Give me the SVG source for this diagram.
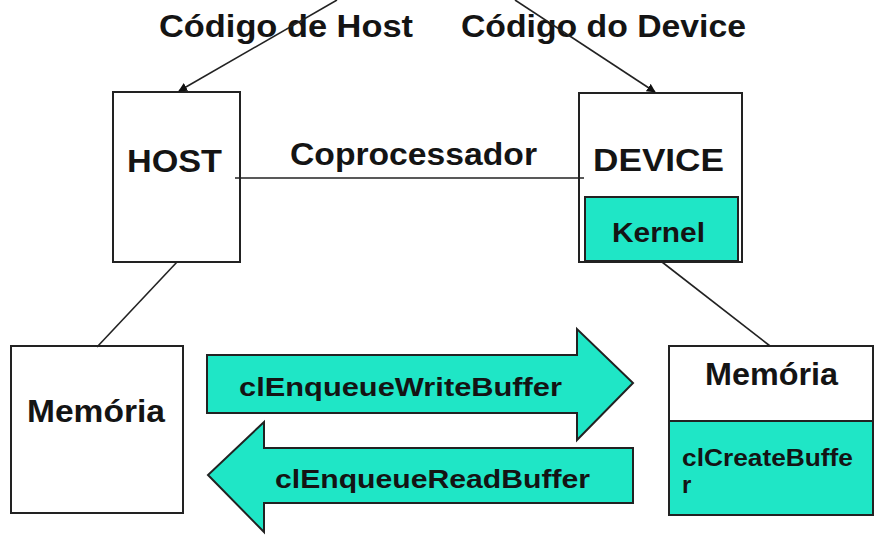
<svg xmlns="http://www.w3.org/2000/svg" width="875" height="535" viewBox="0 0 875 535">
<defs>
<marker id="ah" viewBox="0 0 10 10" refX="9" refY="5" markerWidth="9" markerHeight="9" markerUnits="userSpaceOnUse" orient="auto">
<path d="M0,0 L10,5 L0,10 z" fill="#111"/>
</marker>
</defs>
<style>
text{font-family:"Liberation Sans",Arial,sans-serif;font-weight:bold;fill:#141414}
.box{fill:#fff;stroke:#222;stroke-width:2}
.teal{fill:#1fe6c6;stroke:#222;stroke-width:2}
.ln{stroke:#222;stroke-width:1.6;fill:none}
.big{font-size:31px}
.mid{font-size:26px}
</style>
<rect width="875" height="535" fill="#fff"/>
<g id="labels">
<text class="big" x="159" y="37" textLength="254" lengthAdjust="spacingAndGlyphs">Código de Host</text>
<text class="big" x="461" y="37" textLength="285" lengthAdjust="spacingAndGlyphs">Código do Device</text>
<text class="big" x="290" y="165" textLength="247" lengthAdjust="spacingAndGlyphs">Coprocessador</text>
</g>
<g id="host">
<rect class="box" x="113" y="92" width="127" height="170"/>
<text class="big" x="127" y="172" textLength="95" lengthAdjust="spacingAndGlyphs">HOST</text>
</g>
<g id="device">
<rect class="box" x="579" y="93" width="163" height="169"/>
<text class="big" x="593" y="171" textLength="131" lengthAdjust="spacingAndGlyphs">DEVICE</text>
<g id="kernel">
<rect class="teal" x="585" y="197" width="153" height="64"/>
<text style="font-size:27px" x="612" y="242" textLength="93" lengthAdjust="spacingAndGlyphs">Kernel</text>
</g>
</g>
<g id="mem-host">
<rect class="box" x="11" y="346" width="172" height="167"/>
<text class="big" x="27" y="422" textLength="138" lengthAdjust="spacingAndGlyphs">Memória</text>
</g>
<g id="mem-device">
<rect class="box" x="669" y="346" width="204" height="169"/>
<rect class="teal" x="669" y="421" width="204" height="94"/>
<text class="big" x="705" y="385" textLength="133" lengthAdjust="spacingAndGlyphs">Memória</text>
<text style="font-size:24px" x="682" y="466" textLength="171" lengthAdjust="spacingAndGlyphs">clCreateBuffe</text>
<text style="font-size:24px" x="682" y="493">r</text>
</g>
<g id="write-arrow">
<path class="teal" d="M207,355 L577,355 L577,329 L633,383 L577,440 L577,413 L207,413 Z"/>
<text class="mid" x="239" y="396" textLength="323" lengthAdjust="spacingAndGlyphs">clEnqueueWriteBuffer</text>
</g>
<g id="read-arrow">
<path class="teal" d="M633,448 L264,448 L264,422 L208,475 L264,532 L264,503 L633,503 Z"/>
<text class="mid" x="275" y="488" textLength="315" lengthAdjust="spacingAndGlyphs">clEnqueueReadBuffer</text>
</g>
<g id="connectors">
<line class="ln" x1="337" y1="0" x2="179" y2="91" marker-end="url(#ah)"/>
<line class="ln" x1="515" y1="0" x2="655" y2="92" marker-end="url(#ah)"/>
<line class="ln" x1="235" y1="178" x2="584" y2="178"/>
<line class="ln" x1="177" y1="262" x2="97" y2="347"/>
<line class="ln" x1="662" y1="262" x2="770" y2="346"/>
</g>
</svg>
